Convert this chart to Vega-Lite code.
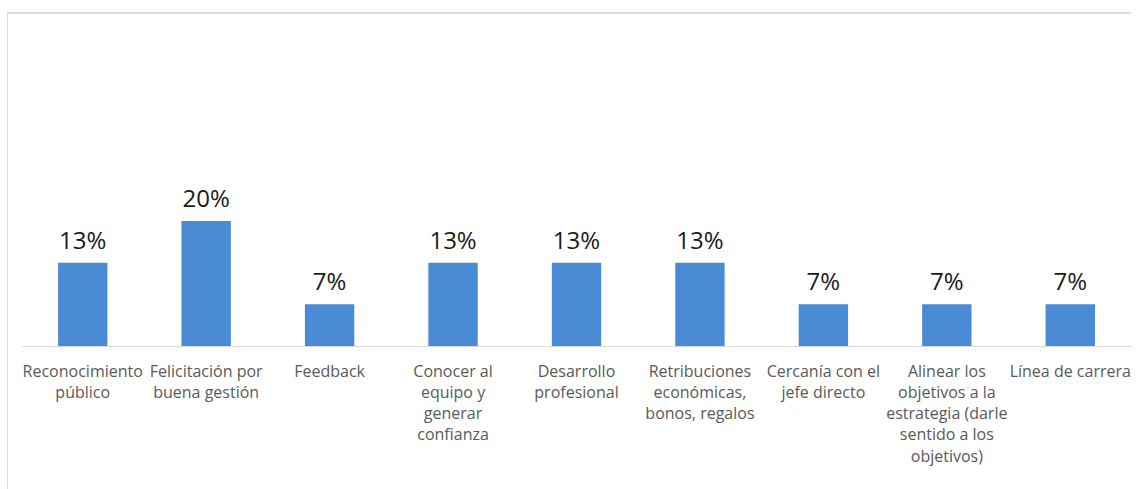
{
  "$schema": "https://vega.github.io/schema/vega-lite/v6.json",
  "autosize": "none",
  "padding": {"left": 7, "top": 13, "right": 7, "bottom": 0},
  "width": 1124,
  "height": 476,
  "background": "white",
  "config": {
    "view": {"stroke": null},
    "font": "Open Sans"
  },
  "data": {
    "values": [
      {"categoria": "Reconocimiento público", "valor": 0.1333},
      {"categoria": "Felicitación por buena gestión", "valor": 0.2},
      {"categoria": "Feedback", "valor": 0.0667},
      {"categoria": "Conocer al equipo y generar confianza", "valor": 0.1333},
      {"categoria": "Desarrollo profesional", "valor": 0.1333},
      {"categoria": "Retribuciones económicas, bonos, regalos", "valor": 0.1333},
      {"categoria": "Cercanía con el jefe directo", "valor": 0.0667},
      {"categoria": "Alinear los objetivos a la estrategia (darle sentido a los objetivos)", "valor": 0.0667},
      {"categoria": "Línea de carrera", "valor": 0.0667}
    ]
  },
  "encoding": {
    "x": {
      "field": "categoria",
      "type": "nominal",
      "sort": null,
      "scale": {"range": [14, 1125], "paddingInner": 0.6, "paddingOuter": 0.3},
      "axis": {
        "title": null,
        "orient": "bottom",
        "offset": -143,
        "domainColor": "#d9d9d9",
        "domainWidth": 1,
        "ticks": false,
        "labelAngle": 0,
        "labelColor": "#595959",
        "labelFont": "Open Sans",
        "labelFontSize": 16,
        "labelLineHeight": 21.3,
        "labelPadding": 17,
        "labelBaseline": "top",
        "labelOverlap": false,
        "labelLimit": 300,
        "labelExpr": "{'Reconocimiento público': ['Reconocimiento', 'público'], 'Felicitación por buena gestión': ['Felicitación por', 'buena gestión'], 'Feedback': 'Feedback', 'Conocer al equipo y generar confianza': ['Conocer al', 'equipo y', 'generar', 'confianza'], 'Desarrollo profesional': ['Desarrollo', 'profesional'], 'Retribuciones económicas, bonos, regalos': ['Retribuciones', 'económicas,', 'bonos, regalos'], 'Cercanía con el jefe directo': ['Cercanía con el', 'jefe directo'], 'Alinear los objetivos a la estrategia (darle sentido a los objetivos)': ['Alinear los', 'objetivos a la', 'estrategia (darle', 'sentido a los', 'objetivos)'], 'Línea de carrera': 'Línea de carrera'}[datum.label]"
      }
    },
    "y": {
      "field": "valor",
      "type": "quantitative",
      "scale": {"domain": [-0.2288, 0.5328], "zero": false, "nice": false},
      "axis": {
        "title": null,
        "orient": "left",
        "labels": false,
        "ticks": false,
        "grid": false,
        "domain": true,
        "domainColor": "#dcdcdc",
        "domainWidth": 1
      }
    }
  },
  "layer": [
    {"mark": {"type": "bar", "color": "#4a8bd6", "y2": {"expr": "scale('y', 0)"}}},
    {
      "mark": {"type": "text", "baseline": "alphabetic", "dy": -14, "fontSize": 24, "color": "#1a1a1a", "font": "Open Sans"},
      "encoding": {"text": {"field": "valor", "type": "quantitative", "format": ".0%"}}
    },
    {
      "mark": {"type": "rule", "color": "#dcdcdc", "strokeWidth": 1},
      "encoding": {"x": null, "y": {"datum": 0.5328}}
    }
  ]
}
